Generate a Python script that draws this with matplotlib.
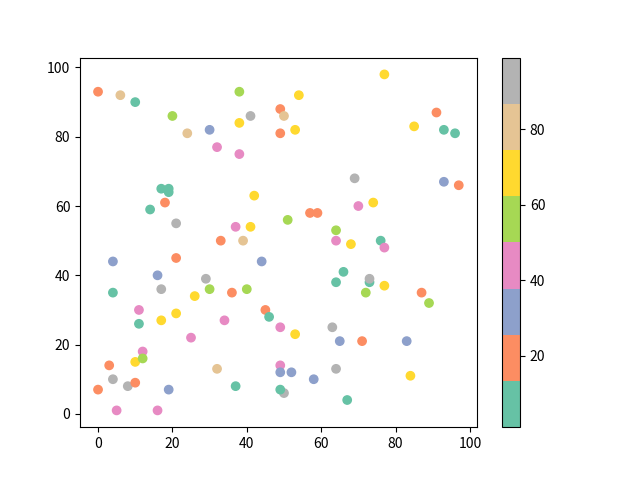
import matplotlib
matplotlib.use("Agg")
import matplotlib.pyplot as plt

plt.rcParams['font.family'] = ['Noto Sans CJK SC', 'DejaVu Sans']
plt.rcParams['axes.unicode_minus'] = False

# point positions (order kept so overlaps stack the same way)
x = [0, 6, 10, 20, 24, 30, 38, 38, 41, 32, 38, 17, 19, 19, 18, 14, 42, 21, 37, 41,
     33, 39, 49, 49, 54, 50, 53, 77, 91, 85, 93, 96, 69, 93, 97, 70, 74, 57, 59, 51,
     64, 64, 68, 76, 77, 66, 64, 73, 73, 77, 72, 87, 89, 45, 49, 53, 63, 65, 71, 83,
     49, 49, 52, 64, 58, 84, 50, 49, 67, 4, 21, 44, 16, 29, 17, 4, 30, 26, 36, 40,
     46, 11, 21, 17, 11, 34, 25, 12, 10, 12, 3, 32, 4, 8, 10, 0, 19, 37, 5, 16]
y = [93, 92, 90, 86, 81, 82, 93, 84, 86, 77, 75, 65, 65, 64, 61, 59, 63, 55, 54, 54,
     50, 50, 88, 81, 92, 86, 82, 98, 87, 83, 82, 81, 68, 67, 66, 60, 61, 58, 58, 56,
     53, 50, 49, 50, 48, 41, 38, 38, 39, 37, 35, 35, 32, 30, 25, 23, 25, 21, 21, 21,
     14, 12, 12, 13, 10, 11, 6, 7, 4, 44, 45, 44, 40, 39, 36, 35, 36, 34, 35, 36,
     28, 30, 29, 27, 26, 27, 22, 18, 15, 16, 14, 13, 10, 8, 9, 7, 7, 8, 1, 1]
# colour values, estimated from the Set2 bands of the colour bar
c = [19, 80, 1, 56, 80, 31, 56, 68, 92, 44, 44, 7, 7, 7, 19, 7, 68, 92, 44, 68,
     19, 80, 19, 19, 68, 80, 68, 68, 19, 68, 7, 7, 92, 31, 19, 44, 68, 19, 19, 56,
     56, 44, 68, 7, 44, 7, 7, 7, 92, 68, 56, 19, 56, 19, 44, 68, 92, 31, 19, 31,
     44, 31, 31, 92, 31, 68, 99, 7, 7, 31, 19, 31, 31, 92, 92, 7, 56, 68, 19, 56,
     7, 44, 68, 68, 7, 44, 44, 44, 68, 56, 19, 80, 92, 92, 19, 19, 31, 7, 44, 44]

fig, ax = plt.subplots(figsize=(6.4, 4.8), dpi=100)
sc = ax.scatter(x, y, c=c, cmap='Set2')
fig.colorbar(sc, ax=ax)
plt.savefig("out.png", dpi=100)
